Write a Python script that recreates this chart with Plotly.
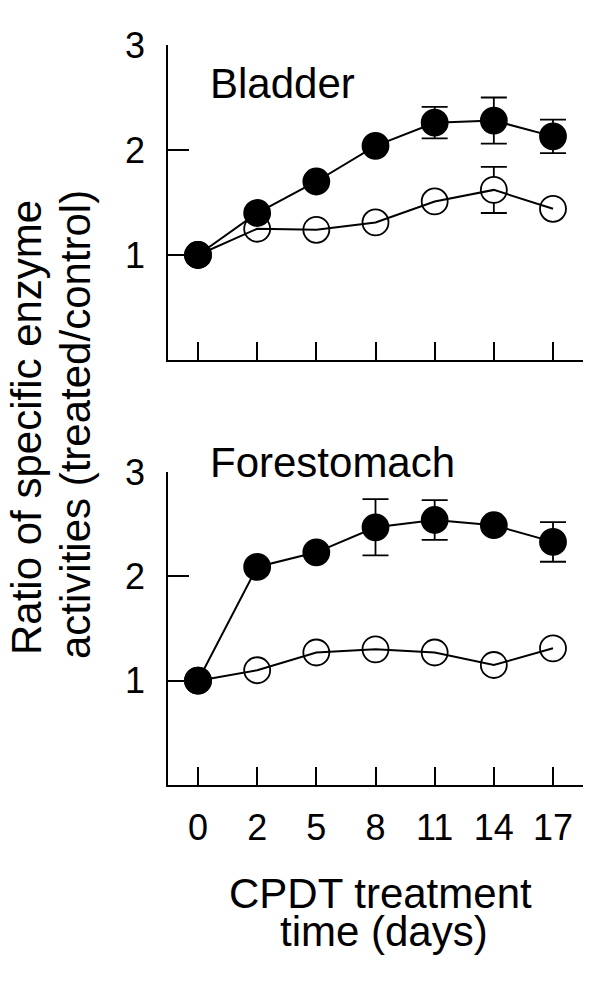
import plotly.graph_objects as go

days = ["0", "2", "5", "8", "11", "14", "17"]

bladder_treated = [1.00, 1.40, 1.70, 2.04, 2.26, 2.28, 2.13]
bladder_treated_err = [0, 0, 0, 0, 0.15, 0.22, 0.16]
bladder_control = [1.00, 1.25, 1.24, 1.31, 1.51, 1.62, 1.44]
bladder_control_err = [0, 0, 0, 0, 0, 0.22, 0]

fore_treated = [1.00, 2.09, 2.23, 2.47, 2.54, 2.49, 2.33]
fore_treated_err = [0, 0, 0, 0.27, 0.19, 0, 0.19]
fore_control = [1.00, 1.10, 1.27, 1.30, 1.27, 1.15, 1.31]
fore_control_err = [0, 0, 0, 0, 0, 0, 0]

FONT = "Liberation Sans, Arial, sans-serif"
xi = list(range(len(days)))

W = 600.0
H = 985.0
OX = 8.0  # page body offset
OY = 8.0


def px(x):
    return (x - OX) / W


def py(y):
    return 1 - (y - OY) / H


fig = go.Figure()


def add_series(vals, errs, filled, xa, ya):
    err = dict(type="data", array=errs, visible=True, color="black",
               thickness=1.8, width=13)
    mk = dict(size=26, color="black" if filled else "white",
              line=dict(color="black", width=1.8), symbol="circle")
    line_tr = go.Scatter(x=xi, y=vals, mode="lines", xaxis=xa, yaxis=ya,
                         line=dict(color="black", width=2), showlegend=False,
                         hoverinfo="skip")
    mark_tr = go.Scatter(x=xi, y=vals, mode="markers", xaxis=xa, yaxis=ya,
                         marker=mk, error_y=err, showlegend=False)
    if filled:
        fig.add_trace(line_tr)
        fig.add_trace(mark_tr)
    else:
        fig.add_trace(mark_tr)
        fig.add_trace(line_tr)


add_series(bladder_control, bladder_control_err, False, "x", "y")
add_series(bladder_treated, bladder_treated_err, True, "x", "y")
add_series(fore_control, fore_control_err, False, "x2", "y2")
add_series(fore_treated, fore_treated_err, True, "x2", "y2")

xdom = [px(168), px(583)]
xrange = [-0.507, 6.507]

xcommon = dict(range=xrange, domain=xdom, showline=True, linecolor="black",
               linewidth=1.5, ticks="inside", ticklen=18, tickwidth=1.5,
               tickcolor="black", tickmode="array", tickvals=xi, ticktext=days,
               showgrid=False, zeroline=False, fixedrange=True, automargin=False,
               tickfont=dict(family=FONT, size=36, color="black"))
ycommon = dict(range=[0, 3], showline=True, linecolor="black", linewidth=1.5,
               ticks="inside", ticklen=21, tickwidth=1.5, tickcolor="black",
               tickmode="array", tickvals=[1, 2, 3], ticktext=["1", "2", "3"],
               showgrid=False, zeroline=False, fixedrange=True, automargin=False,
               tickfont=dict(family=FONT, size=36, color="black"),
               ticklabelstandoff=14)

fig.update_layout(
    width=600, height=985,
    margin=dict(l=0, r=0, t=0, b=0, pad=0, autoexpand=False),
    paper_bgcolor="white", plot_bgcolor="white",
    showlegend=False,
    xaxis=dict(xcommon, anchor="y", showticklabels=False),
    yaxis=dict(ycommon, anchor="x", domain=[py(360), py(45)]),
    xaxis2=dict(xcommon, anchor="y2", showticklabels=True, ticklabelstandoff=10),
    yaxis2=dict(ycommon, anchor="x2", domain=[py(785), py(472)]),
)


def ann(text, x, y, xanchor="center", angle=0, size=42):
    fig.add_annotation(text=text, x=px(x), y=py(y), xref="paper", yref="paper",
                       xanchor=xanchor, yanchor="middle", showarrow=False,
                       textangle=angle, font=dict(family=FONT, size=size, color="black"))


ann("Bladder", 208, 84, xanchor="left")
ann("Forestomach", 208, 462, xanchor="left")
ann("CPDT treatment", 380, 893)
ann("time (days)", 384, 931)
ann("Ratio of specific enzyme", 27, 428, angle=-90)
ann("activities (treated/control)", 76, 425, angle=-90)

fig.write_html("out.html")
